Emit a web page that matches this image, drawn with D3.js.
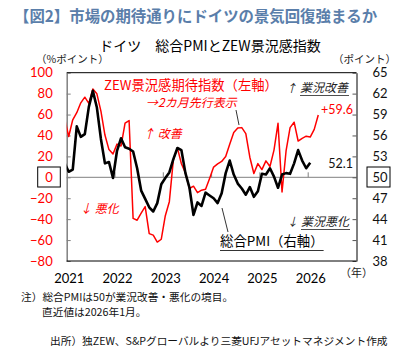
<!DOCTYPE html>
<html lang="ja">
<head>
<meta charset="utf-8">
<title>ドイツ 総合PMIとZEW景況感指数</title>
<script src="https://cdn.jsdelivr.net/npm/d3@7"></script>
<style>
  body { margin: 0; background: #fff; }
  svg { display: block; font-family: "Noto Sans CJK JP", "Noto Sans", sans-serif; }
</style>
</head>
<body>
<svg width="406" height="354"></svg>
<script>
// ZEW景況感期待指数 (実際の月, 2020年10月から) - 2カ月先行で描く
var zewStart = 2020 * 12 + 9; // 2020-10
var zewLead = 2;
var zew = [56.1, 39.0, 55.0,
  61.8, 71.2, 76.6, 70.7, 84.4, 79.8, 63.3, 40.4, 26.5, 22.3, 31.7, 29.9,
  51.7, 54.3, -39.3, -41.0, -34.3, -28.0, -53.8, -55.3, -61.9, -59.2, -36.7, -23.3,
  16.9, 28.1, 13.0, 4.1, -10.7, -8.5, -14.7, -12.3, -11.4, -1.1, 9.8, 12.8,
  15.2, 19.9, 31.7, 42.9, 47.1, 47.5, 41.8, 19.2, 3.6, 13.1, 7.4, 15.7,
  10.3, 26.0, 51.6, -14.0, 25.2, 47.5, 52.7, 34.7, 37.3, 39.3, 38.5, 45.8,
  59.6];

// 総合PMI (2020年12月から)
var pmiStart = 2020 * 12 + 11; // 2020-12
var pmi = [52.0,
  50.8, 51.1, 57.3, 55.8, 56.2, 60.1, 62.4, 60.0, 55.5, 52.0, 52.2, 49.9,
  53.8, 55.6, 54.3, 54.1, 53.7, 51.3, 48.1, 46.9, 45.7, 45.1, 46.3, 49.0,
  49.9, 50.7, 52.6, 54.2, 53.9, 50.6, 48.5, 44.6, 46.4, 45.9, 47.8, 47.4,
  47.0, 46.3, 47.7, 50.6, 52.4, 50.4, 49.1, 48.4, 47.5, 48.6, 47.2, 48.0,
  50.5, 50.4, 51.3, 50.1, 48.5, 50.4, 50.6, 50.5, 52.0, 53.9, 52.4, 51.3,
  52.1];

var years = ["2021", "2022", "2023", "2024", "2025", "2026"];
var leftTicks = [-80, -60, -40, -20, 0, 20, 40, 60, 80, 100];
var rightTicks = [38, 41, 44, 47, 50, 53, 56, 59, 62, 65];

var base = 2021 * 12; // 2021-01 = 0

var svg = d3.select("svg");
var L = 66.7, R = 356.5, T = 72.7, B = 261;

var x = d3.scaleLinear().domain([-0.5, 71.5]).range([L, R]);
var yL = d3.scaleLinear().domain([-80, 100]).range([B, T]);
var yR = d3.scaleLinear().domain([38, 65]).range([B, T]);

var zewPts = zew.map(function (v, i) { return [zewStart + i + zewLead - base, v]; });
var pmiPts = pmi.map(function (v, i) { return [pmiStart + i - base, v]; });

// タイトル
svg.append("text").attr("x", 14).attr("y", 22)
  .attr("font-size", 15.4).attr("font-weight", "bold").attr("fill", "#5a7eaa")
  .text("【図2】市場の期待通りにドイツの景気回復強まるか");
svg.append("text").attr("x", 210).attr("y", 51).attr("text-anchor", "middle")
  .attr("font-size", 14).attr("fill", "#000")
  .text("ドイツ　総合PMIとZEW景況感指数");
svg.append("text").attr("x", 36).attr("y", 63).attr("font-size", 10.5).attr("fill", "#222")
  .text("（%ポイント）");
svg.append("text").attr("x", 333).attr("y", 63).attr("font-size", 10.5).attr("fill", "#222")
  .text("（ポイント）");

// クリップ
svg.append("clipPath").attr("id", "plot")
  .append("rect").attr("x", L).attr("y", T).attr("width", R - L).attr("height", B - T);

// ゼロ線
svg.append("line").attr("x1", L).attr("x2", R).attr("y1", yL(0)).attr("y2", yL(0))
  .attr("stroke", "#808080").attr("stroke-width", 1);

// 年の区切り
svg.selectAll("line.yr").data([12, 24, 36, 48, 60]).enter().append("line")
  .attr("class", "yr")
  .attr("x1", function (d) { return x(d - 0.5); })
  .attr("x2", function (d) { return x(d - 0.5); })
  .attr("y1", yL(0)).attr("y2", yL(0) - 5)
  .attr("stroke", "#808080");

// 左軸
var axL = svg.append("g").attr("transform", "translate(" + L + ",0)")
  .call(d3.axisLeft(yL).tickValues(leftTicks).tickSizeInner(-4).tickSizeOuter(0).tickPadding(14));
axL.select(".domain").attr("stroke", "#808080").attr("stroke-width", 1.5);
axL.selectAll(".tick line").attr("stroke", "#808080");
axL.selectAll(".tick text").attr("fill", "#ff0000").attr("font-size", 13)
  .attr("font-family", "Lato, 'Noto Sans', sans-serif");

// 右軸
var axR = svg.append("g").attr("transform", "translate(" + R + ",0)")
  .call(d3.axisRight(yR).tickValues(rightTicks).tickSizeInner(-4).tickSizeOuter(0).tickPadding(16));
axR.select(".domain").attr("stroke", "#000");
axR.selectAll(".tick line").attr("stroke", "#555");
axR.selectAll(".tick text").attr("fill", "#111").attr("font-size", 13)
  .attr("font-family", "Lato, 'Noto Sans', sans-serif");

// 枠
svg.append("line").attr("x1", L).attr("x2", R).attr("y1", T).attr("y2", T).attr("stroke", "#000");
svg.append("line").attr("x1", L).attr("x2", R).attr("y1", B).attr("y2", B).attr("stroke", "#000");

// 0 と 50 の枠
svg.append("rect").attr("x", 37.7).attr("y", 167).attr("width", 22.6).attr("height", 20)
  .attr("fill", "none").attr("stroke", "#000");
svg.append("rect").attr("x", 367).attr("y", 167).attr("width", 23).attr("height", 20)
  .attr("fill", "none").attr("stroke", "#000");

// 年ラベル
var axX = svg.append("g").attr("transform", "translate(0," + 274 + ")")
  .call(d3.axisBottom(x).tickValues([0, 12, 24, 36, 48, 60])
    .tickFormat(function (d, i) { return years[i]; }).tickSize(0).tickPadding(0));
axX.select(".domain").remove();
axX.selectAll(".tick text").attr("fill", "#000").attr("font-size", 13)
  .attr("font-family", "Lato, 'Noto Sans', sans-serif");
svg.append("text").attr("x", 340).attr("y", 277).attr("font-size", 11).attr("fill", "#222").text("（年）");

// 線
var lineL = d3.line().x(function (d) { return x(d[0]); }).y(function (d) { return yL(d[1]); });
var lineR = d3.line().x(function (d) { return x(d[0]); }).y(function (d) { return yR(d[1]); });
var g = svg.append("g").attr("clip-path", "url(#plot)");
g.append("path").datum(zewPts).attr("d", lineL)
  .attr("fill", "none").attr("stroke", "#ff0000").attr("stroke-width", 1.5)
  .attr("stroke-linejoin", "round");
g.append("path").datum(pmiPts).attr("d", lineR)
  .attr("fill", "none").attr("stroke", "#000").attr("stroke-width", 2.6)
  .attr("stroke-linejoin", "round");

// 注記
svg.append("text").attr("x", 104).attr("y", 90).attr("font-size", 13.3).attr("fill", "#ff0000")
  .text("ZEW景況感期待指数（左軸）");
svg.append("text").attr("x", 146).attr("y", 107).attr("font-size", 12).attr("fill", "#ff0000")
  .attr("font-style", "italic").text("→2カ月先行表示");
svg.append("line").attr("x1", 236).attr("y1", 110).attr("x2", 239).attr("y2", 125)
  .attr("stroke", "#000").attr("stroke-width", 0.8);
svg.append("text").attr("x", 143).attr("y", 138).attr("font-size", 12).attr("fill", "#ff0000")
  .attr("font-style", "italic").text("↑ 改善");
svg.append("text").attr("x", 80).attr("y", 213).attr("font-size", 12).attr("fill", "#ff0000")
  .attr("font-style", "italic").text("↓ 悪化");

function label(tx, ty, str, size, col, italic) {
  return svg.append("text").attr("x", tx).attr("y", ty).attr("font-size", size).attr("fill", col)
    .attr("font-style", italic ? "italic" : "normal").text(str);
}
label(286, 92, "↑", 11, "#222", true);
var t1 = label(300, 92, "業況改善", 12, "#222", true);
label(287, 226, "↓", 11, "#222", true);
var t2 = label(301, 226, "業況悪化", 12, "#222", true);
var t3 = label(220, 246, "総合PMI（右軸）", 13.4, "#000", false);
[t1, t2, t3].forEach(function (t) {
  var b = t.node().getBBox();
  svg.append("line").attr("x1", b.x).attr("x2", b.x + b.width)
    .attr("y1", b.y + b.height + 0.5).attr("y2", b.y + b.height + 0.5)
    .attr("stroke", t.attr("fill")).attr("stroke-width", 0.8);
});
svg.append("line").attr("x1", 222).attr("y1", 208).attr("x2", 228).attr("y2", 232)
  .attr("stroke", "#000").attr("stroke-width", 0.8);

// 直近値
svg.append("text").attr("x", 353).attr("y", 114).attr("text-anchor", "end")
  .attr("font-size", 12.5).attr("fill", "#ff0000").attr("font-family", "Lato, sans-serif")
  .text("+" + zew[zew.length - 1].toFixed(1));
svg.append("text").attr("x", 353).attr("y", 168).attr("text-anchor", "end")
  .attr("font-size", 12.5).attr("fill", "#111").attr("font-family", "Lato, sans-serif")
  .text(pmi[pmi.length - 1].toFixed(1));

// 脚注
svg.append("text").attr("x", 21).attr("y", 301).attr("font-size", 10.7).attr("fill", "#111")
  .text("注）総合PMIは50が業況改善・悪化の境目。");
svg.append("text").attr("x", 42).attr("y", 316).attr("font-size", 10.7).attr("fill", "#111")
  .text("直近値は2026年1月。");
svg.append("text").attr("x", 50).attr("y", 345).attr("font-size", 10.7).attr("fill", "#111")
  .text("出所）独ZEW、S&Pグローバルより三菱UFJアセットマネジメント作成");
</script>
</body>
</html>
